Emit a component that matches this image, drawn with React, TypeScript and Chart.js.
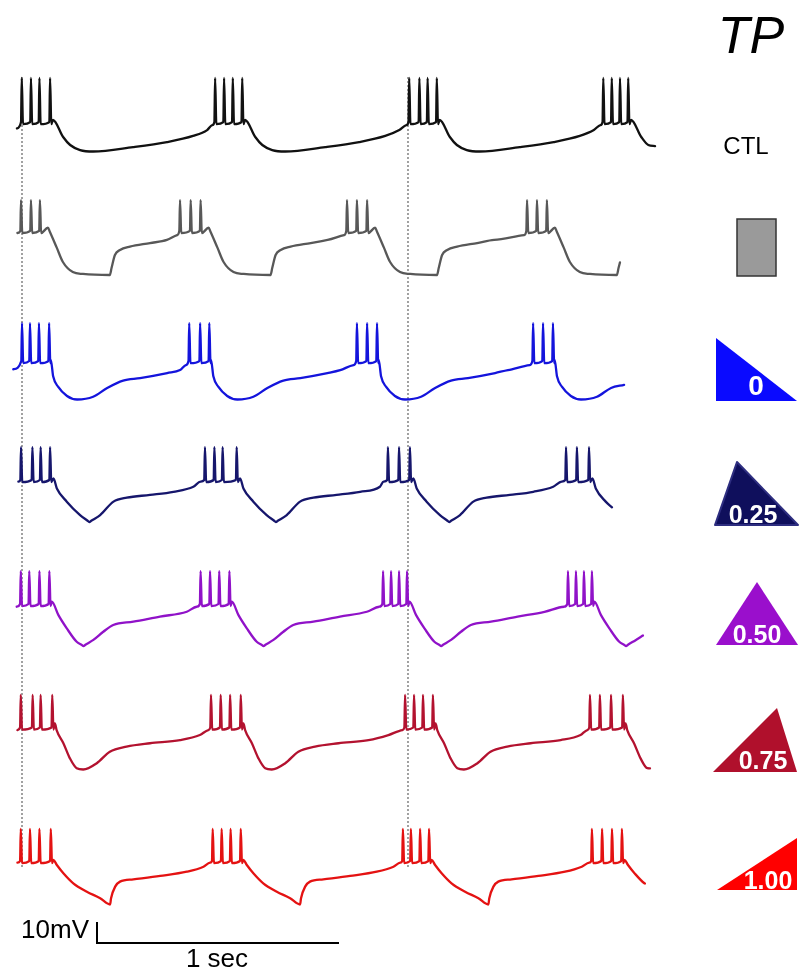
import React, { useEffect, useRef } from "react";
import { Chart, registerables } from "chart.js";

Chart.register(...registerables);

// ---------- data (time in ms, voltage in mV above each trace's most negative point) ----------
const traceLabels = ["CTL", "TP rect", "TP 0", "TP 0.25", "TP 0.50", "TP 0.75", "TP 1.00"];

// spike times per burst (ms)
const ctlSpikes = [[-1, 37, 72, 116], [798, 835, 871, 910], [1600, 1642, 1676, 1714], [2402, 2437, 2471, 2505]];
const rectSpikes = [[-4, 37, 74], [653, 697, 738], [1343, 1384, 1426], [2087, 2128, 2169]];
const tp0Spikes = [[0, 33, 70, 112], [691, 736, 774], [1384, 1426, 1467], [2112, 2153, 2194]];
const tp25Spikes = [[-4, 43, 77, 116], [756, 795, 829, 887], [1512, 1558, 1603], [2248, 2293, 2343]];
const tp50Spikes = [[-5, 30, 72, 113], [738, 777, 815, 857], [1492, 1525, 1558, 1591], [2256, 2289, 2322, 2355]];
const tp75Spikes = [[-5, 44, 77, 125], [781, 821, 860, 904], [1583, 1620, 1657, 1698], [2347, 2388, 2434, 2483]];
const tp100Spikes = [[-5, 33, 72, 119], [788, 825, 862, 904], [1574, 1607, 1645, 1682], [2355, 2397, 2438, 2479]];

// spike peak / inter-spike base (mV)
const spikePeaks = [35, 35.7, 36.4, 35.7, 35.7, 35.5, 36];
const spikeBases = [14, 21, 18.3, 20, 20, 20, 20.7];

// waveform after the last spike of a burst: [ms after last spike, mV]
const ctlAfter = [[12, 15], [54, 6.9], [83, 3.1], [124, 0.7], [178, 0], [343, 2.1], [483, 4.5], [591, 7.4], [649, 10.2]];
const rectAfter = [[33, 22.5], [41, 20.6], [70, 12.9], [95, 6.2], [136, 1.4], [178, 0.5], [289, 0], [296, 3.3], [310, 9.5], [331, 11.9], [372, 13.5], [455, 15.2], [525, 16.7]];
const tp0After = [[7, 18.8], [17, 10.9], [37, 6.1], [74, 1.7], [116, 0], [182, 1.3], [240, 5.5], [306, 9], [376, 10.2], [488, 12.6], [541, 14]];
const tp25After = [[14, 20.8], [28, 16], [69, 9.7], [124, 3.3], [155, 0.6], [162, 0], [170, 0.6], [207, 3.3], [262, 9.7], [317, 11.6], [413, 12.9], [510, 14.4], [592, 16.8]];
const tp50After = [[10, 21.1], [37, 14.8], [72, 8.4], [113, 2], [134, 0.5], [141, 0], [149, 0.6], [182, 2.9], [223, 6.8], [264, 10], [347, 11.6], [457, 14], [568, 16.3]];
const tp75After = [[11, 22], [18, 18.8], [46, 12.5], [73, 5.3], [101, 0.6], [128, 0], [184, 3], [238, 8.5], [307, 10.9], [404, 12.5], [528, 14], [610, 16.4]];
const tp100After = [[11, 21.2], [25, 18.8], [52, 14.9], [93, 10.1], [149, 6.1], [204, 3], [245, 0], [249, 3], [266, 8.5], [286, 10.9], [341, 12], [452, 13.6], [562, 15.6], [631, 18]];

// point just before a burst's first spike: [ms before, mV]
const preBurst = [[-12, 12.6], [-12, 19], [-14, 16.4], [-18, 19.2], [-16, 18.7], [-11, 18.8], [-11, 19.9]];
// first and last sample of each trace: [ms, mV]
const traceStarts = [[-21, 11], [-19, 20], [-36, 14.4], [-15, 19.2], [-22, 18.7], [-19, 18.8], [-19, 19.9]];
const traceEnds = [[2616, 2.6], [2471, 6], [2488, 7], [2438, 7], [2566, 5], [2595, 0.5], [2574, 10]];

// reference markers
const markerTimes = [0, 1595]; // ms, dotted alignment lines
const scaleBarMv = 10;
const scaleBarMs = 1000;

// ---------- layout / style ----------
const W = 799;
const H = 977;
const PX_PER_MS = 0.242;
const PX_PER_MV = 2.1;
const X_ORIGIN_PX = 22;
const rowBasePx = [151.5, 275, 399.5, 522, 646, 769.5, 904.5];
const traceColors = ["#111111", "#585858", "#1414dc", "#16166c", "#9012c8", "#b3122f", "#e41212"];
const FONT = '"Liberation Sans", Arial, Helvetica, sans-serif';

const allSpikes = [ctlSpikes, rectSpikes, tp0Spikes, tp25Spikes, tp50Spikes, tp75Spikes, tp100Spikes];
const allAfter = [ctlAfter, rectAfter, tp0After, tp25After, tp50After, tp75After, tp100After];

function buildTrace(i: number) {
  const off = -rowBasePx[i] / PX_PER_MV;
  const spikes = allSpikes[i];
  const after = allAfter[i];
  const pre = preBurst[i];
  const peak = spikePeaks[i];
  const base = spikeBases[i];
  const pts: { x: number; y: number }[] = [];
  pts.push({ x: traceStarts[i][0], y: traceStarts[i][1] });
  spikes.forEach((burst, b) => {
    if (b > 0) pts.push({ x: burst[0] + pre[0], y: pre[1] });
    burst.forEach((s) => {
      pts.push({ x: s - 3, y: base });
      pts.push({ x: s, y: peak });
      pts.push({ x: s + 5, y: base - 1 });
    });
    const last = burst[burst.length - 1];
    const limit = b < spikes.length - 1 ? spikes[b + 1][0] + pre[0] : traceEnds[i][0];
    after.forEach(([dt, v]) => {
      if (last + dt < limit) pts.push({ x: last + dt, y: v });
    });
  });
  pts.push({ x: traceEnds[i][0], y: traceEnds[i][1] });
  return pts.map((p) => ({ x: p.x, y: p.y + off }));
}

const yOf = (px: number) => -px / PX_PER_MV;

export default function App() {
  const ref = useRef<HTMLCanvasElement | null>(null);

  useEffect(() => {
    if (!ref.current) return;
    const datasets: any[] = [];
    traceLabels.forEach((label, i) => {
      datasets.push({
        label,
        data: buildTrace(i),
        borderColor: traceColors[i],
        borderWidth: 2.3,
        pointRadius: 0,
        cubicInterpolationMode: "monotone",
        borderJoinStyle: "round",
        borderCapStyle: "round",
      });
    });
    markerTimes.forEach((t) => {
      datasets.push({
        label: "marker",
        data: [
          { x: t, y: yOf(77) },
          { x: t, y: yOf(868) },
        ],
        borderColor: "#8a8a8a",
        borderWidth: 1.6,
        borderDash: [2, 2],
        pointRadius: 0,
      });
    });
    const sbX = (97 - X_ORIGIN_PX) / PX_PER_MS;
    const sbY = yOf(943);
    datasets.push({
      label: "scale",
      data: [
        { x: sbX, y: sbY + scaleBarMv },
        { x: sbX, y: sbY },
        { x: sbX + scaleBarMs, y: sbY },
      ],
      borderColor: "#000000",
      borderWidth: 2,
      pointRadius: 0,
      borderJoinStyle: "miter",
    });

    const chart = new Chart(ref.current, {
      type: "line",
      data: { datasets },
      options: {
        responsive: false,
        maintainAspectRatio: false,
        animation: false,
        layout: { padding: 0 },
        plugins: { legend: { display: false }, tooltip: { enabled: false }, title: { display: false } },
        scales: {
          x: { type: "linear", display: false, min: -X_ORIGIN_PX / PX_PER_MS, max: (W - X_ORIGIN_PX) / PX_PER_MS },
          y: { type: "linear", display: false, min: -H / PX_PER_MV, max: 0 },
        },
      },
    });
    return () => chart.destroy();
  }, []);

  const txt = (s: string, left: number, top: number, size: number, extra: React.CSSProperties = {}) => (
    <div
      style={{
        position: "absolute",
        left,
        top,
        fontFamily: FONT,
        fontSize: size,
        lineHeight: 1,
        whiteSpace: "nowrap",
        ...extra,
      }}
    >
      {s}
    </div>
  );

  return (
    <div style={{ position: "absolute", left: 0, top: 0, width: W, height: H, background: "#fff", overflow: "hidden" }}>
      <canvas ref={ref} width={W} height={H} style={{ position: "absolute", left: 0, top: 0, width: W, height: H }} />
      <svg width={W} height={H} style={{ position: "absolute", left: 0, top: 0 }}>
        <rect x={737} y={219} width={39} height={57} fill="#9a9a9a" stroke="#333" strokeWidth={1.5} />
        <polygon points="716,338 716,401 797,401" fill="#0a0aff" />
        <polygon points="737,462 715,525 798,525" fill="#0f0f5c" stroke="#2e2e80" strokeWidth={2} strokeLinejoin="round" />
        <polygon points="757,582 716,645 798,645" fill="#9a0fcc" />
        <polygon points="777,708 713,772 797,772" fill="#b0102c" />
        <polygon points="797,838 717,890 797,890" fill="#ff0000" />
      </svg>
      {txt("TP", 701, 9, 52, { fontStyle: "italic", width: 100, textAlign: "center" })}
      {txt("CTL", 706, 134, 24, { width: 80, textAlign: "center" })}
      {txt("0", 726, 372, 28, { width: 60, textAlign: "center", color: "#fff", fontWeight: "bold" })}
      {txt("0.25", 718, 502, 25, { width: 70, textAlign: "center", color: "#fff", fontWeight: "bold" })}
      {txt("0.50", 722, 622, 25, { width: 70, textAlign: "center", color: "#fff", fontWeight: "bold" })}
      {txt("0.75", 728, 748, 25, { width: 70, textAlign: "center", color: "#fff", fontWeight: "bold" })}
      {txt("1.00", 733, 868, 25, { width: 70, textAlign: "center", color: "#fff", fontWeight: "bold" })}
      {txt("10mV", 0, 916, 26, { width: 89, textAlign: "right" })}
      {txt("1 sec", 167, 945, 26, { width: 100, textAlign: "center" })}
    </div>
  );
}
